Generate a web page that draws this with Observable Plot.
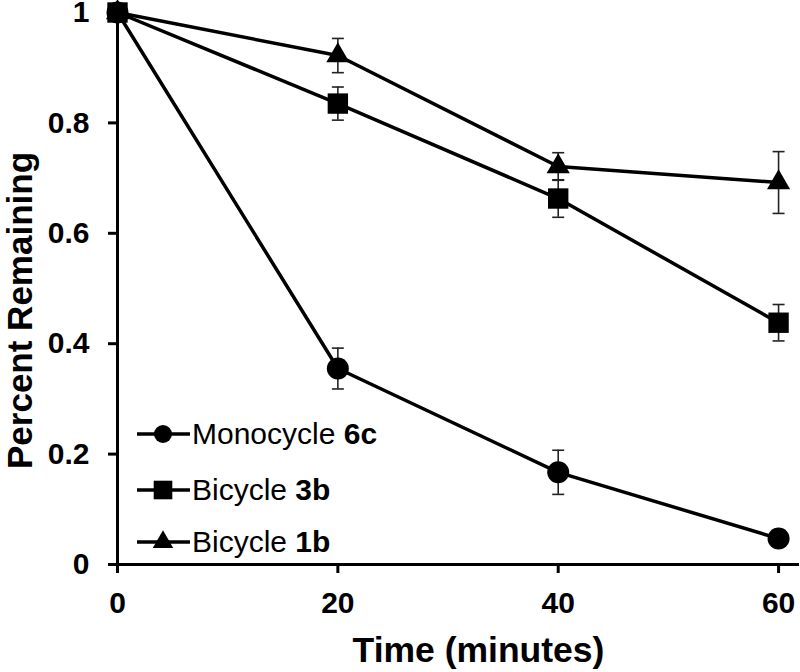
<!DOCTYPE html>
<html>
<head>
<meta charset="utf-8">
<script src="https://cdn.jsdelivr.net/npm/d3@7"></script>
<script src="https://cdn.jsdelivr.net/npm/@observablehq/plot@0.6"></script>
<style>
  html, body { margin: 0; padding: 0; background: #fff; }
  #wrap { position: relative; width: 800px; height: 672px; font-family: Arial, "Liberation Sans", sans-serif; }
  .row { position: absolute; left: 136px; display: flex; align-items: center; height: 34px; }
  .row svg { display: block; margin-right: 2px; }
  .row span { font-size: 30px; line-height: 34px; color: #000; white-space: nowrap; }
  .row b { font-weight: bold; }
</style>
</head>
<body>
<div id="wrap"></div>
<script>
// ---- data ----
const times = [0, 20, 40, 60];
const xTicks = [0, 20, 40, 60];
const yTicks = [0, 0.2, 0.4, 0.6, 0.8, 1];
const yTickLabels = ["0", "0.2", "0.4", "0.6", "0.8", "1"];

const seriesNames = ["Monocycle", "Bicycle", "Bicycle"];
const seriesIds = ["6c", "3b", "1b"];
const seriesSymbols = ["circle", "square", "triangle"];

const mono6c = [1, 0.355, 0.167, 0.047];
const mono6cErr = [0, 0.037, 0.040, 0.008];
const bi3b = [1, 0.835, 0.663, 0.438];
const bi3bErr = [0, 0.030, 0.034, 0.033];
const bi1b = [1, 0.922, 0.721, 0.692];
const bi1bErr = [0, 0.031, 0.025, 0.056];

const values = [mono6c, bi3b, bi1b];
const errors = [mono6cErr, bi3bErr, bi1bErr];

// ---- build table ----
const rows = [];
values.forEach((vals, s) => {
  vals.forEach((v, i) => {
    rows.push({series: seriesIds[s], symbol: seriesSymbols[s], t: times[i], v, e: errors[s][i]});
  });
});
const errRows = rows.filter(d => d.e > 0);

const capSymbol = {
  draw(ctx, size) {
    ctx.moveTo(-6, 0);
    ctx.lineTo(6, 0);
  }
};
const symR = {circle: 11, square: 11.5, triangle: 8.6};
const legendR = {circle: 9, square: 10.5, triangle: 7.6};
const font = "Arial, 'Liberation Sans', sans-serif";

const chart = Plot.plot({
  width: 800,
  height: 672,
  marginLeft: 117,
  marginRight: 1,
  marginTop: 12,
  marginBottom: 108,
  style: {fontFamily: font, background: "#fff", color: "#000", overflow: "visible"},
  x: {domain: [0, 61.9], label: null},
  y: {domain: [0, 1], label: null},
  marks: [
    Plot.axisY({
      ticks: yTicks,
      tickFormat: d => yTickLabels[yTicks.indexOf(d)],
      tickSize: 9,
      tickPadding: 19,
      strokeWidth: 3,
      fontSize: 30,
      fontWeight: "bold",
      label: null
    }),
    Plot.axisX({
      ticks: xTicks,
      tickSize: 9,
      tickPadding: 18,
      strokeWidth: 3,
      fontSize: 30,
      fontWeight: "bold",
      label: null
    }),
    Plot.ruleX([0], {y1: 0, y2: 1, strokeWidth: 3}),
    Plot.ruleY([0], {strokeWidth: 3}),
    // error bars
    Plot.ruleX(errRows, {x: "t", y1: d => d.v - d.e, y2: d => d.v + d.e, stroke: "#222", strokeWidth: 1.6}),
    Plot.dot(errRows, {x: "t", y: d => d.v + d.e, symbol: capSymbol, r: 6, stroke: "#222", strokeWidth: 1.6, fill: "none"}),
    Plot.dot(errRows, {x: "t", y: d => d.v - d.e, symbol: capSymbol, r: 6, stroke: "#222", strokeWidth: 1.6, fill: "none"}),
    // lines
    Plot.line(rows, {x: "t", y: "v", z: "series", stroke: "#000", strokeWidth: 3.5}),
    // markers
    ...seriesSymbols.map(sym =>
      Plot.dot(rows.filter(d => d.symbol === sym), {x: "t", y: "v", symbol: sym, r: symR[sym], fill: "#000", stroke: "none"})
    ),
    // axis titles
    Plot.text(["Time (minutes)"], {frameAnchor: "bottom", lineAnchor: "middle", textAnchor: "middle", dx: 20, dy: 86, fontSize: 35.5, fontWeight: "bold", text: d => d}),
    Plot.text(["Percent Remaining"], {frameAnchor: "left", lineAnchor: "middle", textAnchor: "middle", dx: -97, dy: 22, rotate: -90, fontSize: 35, fontWeight: "bold", text: d => d})
  ]
});

const wrap = document.getElementById("wrap");
wrap.appendChild(chart);

// ---- legend ----
const legendCenters = [434, 490, 542];
seriesIds.forEach((id, s) => {
  const row = document.createElement("div");
  row.className = "row";
  row.style.top = (legendCenters[s] - 17) + "px";
  const svg = d3.create("svg").attr("width", 54).attr("height", 30);
  svg.append("line").attr("x1", 1).attr("x2", 54).attr("y1", 15).attr("y2", 15)
    .attr("stroke", "#000").attr("stroke-width", 3.4);
  const type = {circle: d3.symbolCircle, square: d3.symbolSquare, triangle: d3.symbolTriangle}[seriesSymbols[s]];
  const r = legendR[seriesSymbols[s]];
  svg.append("path").attr("transform", "translate(27,15)")
    .attr("d", d3.symbol(type, Math.PI * r * r)()).attr("fill", "#000");
  row.appendChild(svg.node());
  const span = document.createElement("span");
  span.innerHTML = seriesNames[s] + " <b>" + id + "</b>";
  row.appendChild(span);
  wrap.appendChild(row);
});
</script>
</body>
</html>
